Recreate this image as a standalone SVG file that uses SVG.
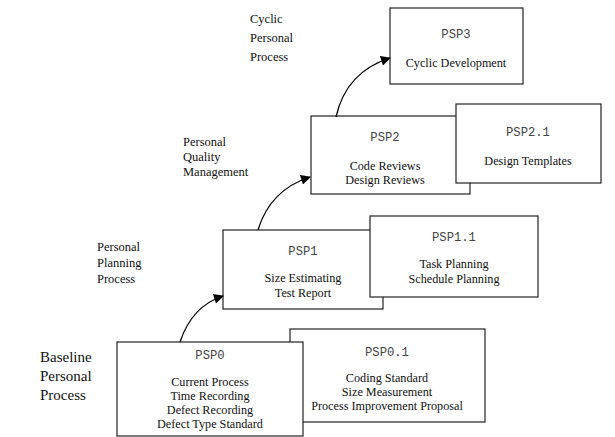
<svg xmlns="http://www.w3.org/2000/svg" width="615" height="437" viewBox="0 0 615 437">
<style>
.box{fill:#fff;stroke:#222;stroke-width:1.2}
.t{font-family:"Liberation Serif",serif;font-size:12.2px;fill:#111;text-anchor:middle}
.m{font-family:"Liberation Mono",monospace;font-size:12.2px;fill:#444;text-anchor:middle}
.l{font-family:"Liberation Serif",serif;font-size:12.5px;fill:#111}
.b{font-family:"Liberation Serif",serif;font-size:15px;fill:#111}
.c{fill:none;stroke:#000;stroke-width:1.3}
</style>
<defs>
<marker id="ah" viewBox="0 0 10 10" refX="9" refY="5" markerWidth="11" markerHeight="10" orient="auto" markerUnits="userSpaceOnUse">
<path d="M0,0 L10,5 L0,10 z" fill="#000"/>
</marker>
</defs>
<g id="labels">
<text class="l" x="250" y="23">Cyclic</text>
<text class="l" x="250" y="42">Personal</text>
<text class="l" x="250" y="61">Process</text>
<text class="l" x="183" y="146">Personal</text>
<text class="l" x="183" y="161">Quality</text>
<text class="l" x="183" y="176">Management</text>
<text class="l" x="97" y="251">Personal</text>
<text class="l" x="97" y="267">Planning</text>
<text class="l" x="97" y="283">Process</text>
<text class="b" x="40" y="362">Baseline</text>
<text class="b" x="40" y="381">Personal</text>
<text class="b" x="40" y="400">Process</text>
</g>
<g id="psp3">
<rect class="box" x="390" y="8" width="133" height="76"/>
<text class="m" x="456" y="38">PSP3</text>
<text class="t" x="456" y="67">Cyclic Development</text>
</g>
<g id="psp2">
<rect class="box" x="311" y="116" width="159" height="78"/>
<text class="m" x="385" y="141">PSP2</text>
<text class="t" x="385" y="170">Code Reviews</text>
<text class="t" x="385" y="184">Design Reviews</text>
</g>
<g id="psp2_1">
<rect class="box" x="456" y="104" width="145" height="79"/>
<text class="m" x="528" y="136">PSP2.1</text>
<text class="t" x="528" y="165">Design Templates</text>
</g>
<g id="psp1">
<rect class="box" x="223" y="230" width="160" height="79"/>
<text class="m" x="303" y="255">PSP1</text>
<text class="t" x="303" y="282">Size Estimating</text>
<text class="t" x="303" y="297">Test Report</text>
</g>
<g id="psp1_1">
<rect class="box" x="370" y="216" width="168" height="81"/>
<text class="m" x="454" y="241">PSP1.1</text>
<text class="t" x="454" y="268">Task Planning</text>
<text class="t" x="454" y="283">Schedule Planning</text>
</g>
<g id="psp0_1">
<rect class="box" x="290" y="329" width="195" height="93"/>
<text class="m" x="387" y="356">PSP0.1</text>
<text class="t" x="387" y="382">Coding Standard</text>
<text class="t" x="387" y="396">Size Measurement</text>
<text class="t" x="387" y="410">Process Improvement Proposal</text>
</g>
<g id="psp0">
<rect class="box" x="117" y="342" width="186" height="94"/>
<text class="m" x="210" y="359">PSP0</text>
<text class="t" x="210" y="386">Current Process</text>
<text class="t" x="210" y="400">Time Recording</text>
<text class="t" x="210" y="414">Defect Recording</text>
<text class="t" x="210" y="428">Defect Type Standard</text>
</g>
<g id="connectors">
<path class="c" d="M180,342 Q192,306 223,296" marker-end="url(#ah)"/>
<path class="c" d="M258,230 Q270,190 310,177" marker-end="url(#ah)"/>
<path class="c" d="M336,117 Q346,72 390,58" marker-end="url(#ah)"/>
</g>
</svg>
